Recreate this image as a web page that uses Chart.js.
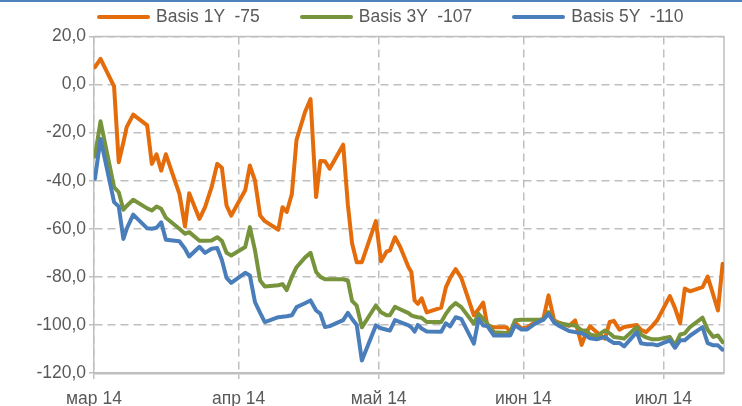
<!DOCTYPE html>
<html>
<head>
<meta charset="utf-8">
<script src="https://cdn.jsdelivr.net/npm/chart.js@4.4.1/dist/chart.umd.min.js"></script>
<style>
html, body { margin: 0; padding: 0; width: 742px; height: 406px; overflow: hidden; background: #fff; }
canvas { display: block; }
#topline { position: absolute; left: 0; top: 0; width: 742px; height: 2px; background: #4F81BD; }
#legend-div { position: absolute; left: 97px; top: 6px; display: flex; align-items: center;
    font-family: 'Liberation Sans', Arial, sans-serif; font-size: 17.5px; color: #595959; white-space: pre; }
#legend-div .item { display: flex; align-items: center; margin-right: 40px; }
#legend-div .swatch { display: inline-block; width: 53px; height: 4px; margin-right: 6px; border-radius: 2px; }
</style>
</head>
<body>
<canvas id="basisChart" width="742" height="412"></canvas>
<div id="topline"></div>
<div id="legend-div"></div>
<script>
// days counted from 1 March 2014
let days = [
    0.2, 1.4, 4.3, 5.3, 6.3, 7.0, 8.4, 11.4, 12.4, 13.4, 14.4, 15.4, 18.3, 19.5, 20.4, 22.6,
    23.8, 25.2, 26.4, 27.4, 28.4, 29.4, 32.4, 33.4, 34.5, 35.6, 36.6, 39.5, 40.4, 41.3, 42.4, 43.4,
    45.2, 46.4, 47.6, 48.5, 49.5, 50.5, 53.4, 54.4, 55.3, 56.3, 57.4, 60.4,
    61.5, 62.7, 63.4, 64.5, 65.6, 67.4, 68.0, 68.7, 69.4, 70.2, 71.3, 74.4, 75.4, 76.3,
    77.5, 78.7, 81.4, 82.4, 83.4, 84.3, 85.7, 88.4, 89.2, 90.2, 91.6, 92.8, 94.5, 96.3,
    97.4, 98.6, 99.5, 101.8, 103.1, 104.5, 105.4, 106.3, 107.7, 109.5, 110.5, 111.4, 112.6, 113.6,
    116.3, 117.2, 118.3, 119.6, 120.7, 123.4, 124.5, 125.6, 126.6, 127.7, 130.4, 131.5, 132.7, 133.7, 134.7
];

let basis1y = [
    7.2, 10.7, -0.8, -32.3, -24, -17.7, -12.5, -17, -33, -29, -35.8, -29, -45.5, -59, -45.2, -55.9,
    -51, -42.7, -33, -34.6, -50.3, -54.5, -44, -33.7, -40, -54.5, -56.8, -60.4, -51, -53, -45.5, -23,
    -11.5, -6, -46.8, -31.8, -31.9, -35, -25, -50, -66, -73.9, -73.9, -56.8,
    -73.5, -69.5, -69, -63.5, -67.5, -76, -78, -89.8, -91.2, -88.9, -94.8, -92.8, -84.4, -80.5,
    -76.8, -80.4, -96, -93.5, -90.7, -100.5, -101, -101, -103, -99, -101.5, -101, -99, -97.4,
    -87.7, -98.1, -99, -100.4, -98.1, -108.3, -103.5, -100.6, -103, -105.7, -98.8, -98.3, -102, -100.9,
    -100, -102, -103, -100.5, -98, -88, -93, -99.3, -84.9, -86, -84.3, -79.9, -87.5, -94, -74.6
];

let basis3y = [
    -29.9, -15.3, -42.7, -44.8, -52.1, -50.5, -47.9, -51.5, -52.4, -50.7, -51.7, -55.4, -60, -62.1, -61.4, -65,
    -65, -64.9, -63.5, -65, -70, -71.1, -67.6, -59.3, -69, -81.5, -84, -83.5, -83, -85.5, -80, -76,
    -72, -70, -78, -80, -81, -81, -81, -81.5, -90, -92, -101, -91.9,
    -94.7, -96, -96, -92.5, -93.5, -95.1, -96, -96.5, -96.8, -97, -98.8, -98.8, -95.4, -93,
    -90.9, -92.6, -99.5, -95.4, -97.5, -99.5, -103, -103.4, -103, -98.1, -97.8, -97.8, -97.8, -97.8,
    -94.7, -98.8, -99.3, -100, -100.2, -102.3, -102.3, -104, -104.7, -102.3, -103.5, -105, -105.3, -105.7,
    -100.9, -104, -105.2, -106, -106, -105, -108.5, -104, -103.5, -100.9, -97, -102, -105, -104.4, -107.2
];

let basis5y = [
    -39.2, -22.6, -48.9, -50.7, -64.2, -60, -54.1, -59.8, -60, -59.6, -57.3, -64.6, -65.2, -68.3, -71.5, -67.5,
    -70, -68.3, -68, -73, -80.4, -82.5, -78.3, -79.4, -90.5, -95, -98.8, -96.8, -96.6, -96.4, -96, -92.6,
    -91, -89.8, -94, -95.3, -100.9, -100.5, -98, -95, -97.5, -100, -114.8, -100.2,
    -101.4, -102, -102.4, -98, -98.8, -100.2, -101, -102.8, -100, -101.5, -102.7, -102.8, -99.3, -100.6,
    -96.8, -97.5, -107.8, -97.5, -100.2, -100.5, -104.4, -104.4, -104.4, -100.2, -101.9, -101.9, -99.5, -97.8,
    -95.4, -99, -100.2, -102.5, -103, -103.5, -104.4, -105.6, -106, -105, -106.5, -107.5, -107.5, -108.9,
    -103, -107.6, -108, -108, -108.5, -106.4, -109.5, -106.4, -106.4, -104.5, -100.9, -107.6, -108.5, -108.5, -110.3
];

let seriesNames = ['Basis 1Y  -75', 'Basis 3Y  -107', 'Basis 5Y  -110'];
let seriesColors = ['#E46C0A', '#77933C', '#4A7EBB'];

let monthDays = [0, 31, 61, 92, 122];
let monthLabels = ['мар 14', 'апр 14', 'май 14', 'июн 14', 'июл 14'];

let toPoints = function (values) {
    return values.map(function (v, i) { return { x: days[i], y: v }; });
};

let makeSet = function (i, values) {
    return {
        label: seriesNames[i],
        data: toPoints(values),
        borderColor: seriesColors[i],
        backgroundColor: seriesColors[i],
        borderWidth: 4,
        pointRadius: 0,
        tension: 0,
        borderJoinStyle: 'round',
        borderCapStyle: 'round',
        order: 3 - i   // blue ends up on top
    };
};

// solid frame on top and right of the plot
let plotFrame = {
    id: 'plotFrame',
    beforeDatasetsDraw: function (chart) {
        let a = chart.chartArea;
        let ctx = chart.ctx;
        ctx.save();
        ctx.strokeStyle = '#BFBFBF';
        ctx.lineWidth = 1.5;
        ctx.beginPath();
        ctx.moveTo(a.left, a.top);
        ctx.lineTo(a.right, a.top);
        ctx.lineTo(a.right, a.bottom);
        ctx.stroke();
        ctx.restore();
    }
};

let fontFamily = "'Liberation Sans', Arial, sans-serif";

let basisChart = new Chart(document.getElementById('basisChart').getContext('2d'), {
    type: 'line',
    data: {
        datasets: [makeSet(0, basis1y), makeSet(1, basis3y), makeSet(2, basis5y)]
    },
    options: {
        responsive: false,
        animation: false,
        layout: { padding: { top: 36.5, left: 0, right: 18, bottom: 0 } },
        plugins: {
            tooltip: { enabled: false },
            legend: { display: false }
        },
        scales: {
            x: {
                type: 'linear',
                min: 0,
                max: 135,
                afterBuildTicks: function (scale) {
                    scale.ticks = monthDays.map(function (d) { return { value: d }; });
                },
                afterFit: function (scale) { scale.height = 39; },
                ticks: {
                    autoSkip: false,
                    maxRotation: 0,
                    padding: 10,
                    color: '#595959',
                    font: { family: fontFamily, size: 17.5 },
                    callback: function (value, index) { return monthLabels[index]; }
                },
                grid: {
                    color: '#BFBFBF',
                    lineWidth: 1.5,
                    tickLength: 6,
                    tickBorderDash: []
                },
                border: { display: true, color: '#BFBFBF', width: 2.5, dash: [8, 5] }
            },
            y: {
                min: -120,
                max: 20,
                afterFit: function (scale) { scale.width = 94; },
                ticks: {
                    stepSize: 20,
                    padding: 3,
                    color: '#595959',
                    font: { family: fontFamily, size: 17.5 },
                    callback: function (value) { return value.toFixed(1).replace('.', ','); }
                },
                grid: {
                    color: '#BFBFBF',
                    lineWidth: 1.5,
                    tickLength: 5,
                    tickBorderDash: []
                },
                border: { display: true, color: '#BFBFBF', width: 1.5, dash: [8, 5] }
            }
        }
    },
    plugins: [plotFrame]
});

// html legend built from the series names and colours
let legendDiv = document.getElementById('legend-div');
seriesNames.forEach(function (name, i) {
    legendDiv.innerHTML += "<span class='item'><span class='swatch' style='background-color: " +
        seriesColors[i] + "'></span>" + name + "</span>";
});
</script>
</body>
</html>
